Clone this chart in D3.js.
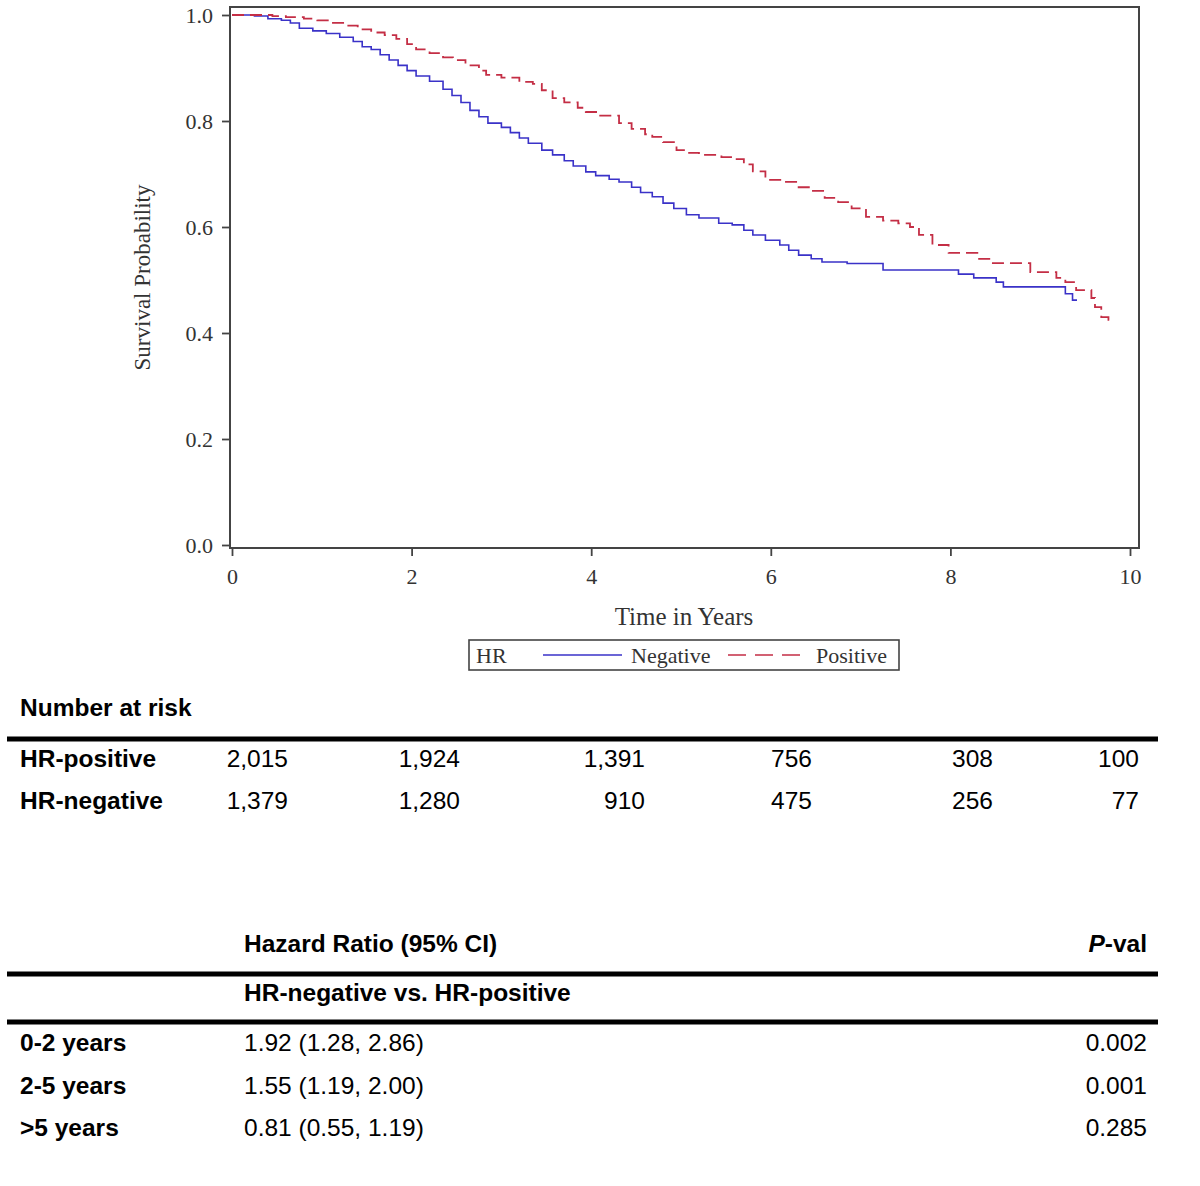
<!DOCTYPE html>
<html>
<head>
<meta charset="utf-8">
<script src="https://cdn.jsdelivr.net/npm/d3@7"></script>
<style>
  html, body { margin: 0; padding: 0; background: #fff; }
  svg { display: block; }
</style>
</head>
<body>
<svg id="chart" width="1200" height="1186"></svg>
<script>
// ── Data ───────────────────────────────────────────────────────────

// Kaplan-Meier steps: [years, survival probability]
const negativeSteps = [
  [0, 1.0], [0.25, 0.998], [0.4, 0.993], [0.55, 0.99], [0.65, 0.985], [0.75, 0.975],
  [0.9, 0.97], [1.05, 0.965], [1.2, 0.958], [1.35, 0.95], [1.45, 0.94], [1.55, 0.935],
  [1.65, 0.925], [1.75, 0.915], [1.85, 0.905], [1.95, 0.895], [2.05, 0.885], [2.2, 0.875],
  [2.35, 0.86], [2.45, 0.848], [2.55, 0.835], [2.65, 0.82], [2.75, 0.808], [2.85, 0.796],
  [3.0, 0.788], [3.1, 0.778], [3.2, 0.768], [3.3, 0.758], [3.45, 0.745], [3.57, 0.736],
  [3.7, 0.725], [3.8, 0.715], [3.94, 0.704], [4.05, 0.697], [4.2, 0.69], [4.31, 0.685],
  [4.45, 0.675], [4.55, 0.665], [4.68, 0.657], [4.8, 0.645], [4.92, 0.635], [5.06, 0.623],
  [5.2, 0.617], [5.42, 0.607], [5.57, 0.604], [5.7, 0.594], [5.8, 0.585], [5.94, 0.575],
  [6.1, 0.566], [6.2, 0.556], [6.31, 0.547], [6.45, 0.54], [6.57, 0.534], [6.85, 0.531],
  [7.25, 0.519], [8.09, 0.511], [8.26, 0.504], [8.51, 0.496], [8.59, 0.487], [9.28, 0.474],
  [9.36, 0.462], [9.41, 0.462]
];

const positiveSteps = [
  [0, 1.0], [0.45, 0.998], [0.6, 0.996], [0.8, 0.993], [0.95, 0.99], [1.1, 0.985],
  [1.25, 0.98], [1.4, 0.973], [1.55, 0.967], [1.7, 0.962], [1.83, 0.955], [1.95, 0.945],
  [2.05, 0.935], [2.2, 0.928], [2.35, 0.92], [2.46, 0.915], [2.6, 0.905], [2.75, 0.895],
  [2.83, 0.887], [3.0, 0.882], [3.2, 0.874], [3.35, 0.87], [3.45, 0.858], [3.57, 0.843],
  [3.7, 0.835], [3.85, 0.825], [3.94, 0.817], [4.1, 0.81], [4.31, 0.796], [4.45, 0.785],
  [4.6, 0.775], [4.68, 0.77], [4.8, 0.76], [4.95, 0.745], [5.06, 0.74], [5.2, 0.736],
  [5.45, 0.732], [5.62, 0.728], [5.7, 0.718], [5.8, 0.705], [5.94, 0.689], [6.15, 0.685],
  [6.31, 0.675], [6.45, 0.668], [6.6, 0.655], [6.75, 0.647], [6.9, 0.635], [7.06, 0.619],
  [7.25, 0.612], [7.42, 0.607], [7.55, 0.6], [7.65, 0.585], [7.8, 0.566], [7.98, 0.551],
  [8.3, 0.54], [8.45, 0.532], [8.89, 0.515], [9.18, 0.504], [9.28, 0.496], [9.4, 0.481],
  [9.57, 0.466], [9.61, 0.449], [9.68, 0.43], [9.76, 0.425], [9.8, 0.421]
];

const xTicks = [0, 2, 4, 6, 8, 10];
const yTicks = [0, 0.2, 0.4, 0.6, 0.8, 1.0];

const legendLabels = ['Negative', 'Positive'];

const riskGroups = ['HR-positive', 'HR-negative'];
const riskCounts = [
  ['2,015', '1,924', '1,391', '756', '308', '100'],
  ['1,379', '1,280', '910', '475', '256', '77']
];

const hrPeriods = ['0-2 years', '2-5 years', '>5 years'];
const hrValues = ['1.92 (1.28, 2.86)', '1.55 (1.19, 2.00)', '0.81 (0.55, 1.19)'];
const hrPvals = ['0.002', '0.001', '0.285'];

// ── Layout ─────────────────────────────────────────────────────────

const COLORS = { neg: '#3a32c8', pos: '#c42e45', axis: '#444', text: '#333' };
const SERIF = '"Liberation Serif", "Times New Roman", serif';
const SANS  = '"Liberation Sans", Arial, sans-serif';
const frame = { left: 230, right: 1139, top: 7, bottom: 548 };
const riskColRight = [288, 460, 645, 812, 993, 1139];

const svg = d3.select('#chart');

const x = d3.scaleLinear().domain([0, 10]).range([232, 1130]);
const y = d3.scaleLinear().domain([0, 1]).range([545, 15]);

// ── Axes ───────────────────────────────────────────────────────────

const yAxis = svg.append('g')
  .attr('transform', `translate(${frame.left},0)`)
  .call(d3.axisLeft(y).tickValues(yTicks).tickFormat(d3.format('.1f')).tickSize(8).tickPadding(9));

const xAxis = svg.append('g')
  .attr('transform', `translate(0,${frame.bottom})`)
  .call(d3.axisBottom(x).tickValues(xTicks).tickSize(8).tickPadding(12));

[yAxis, xAxis].forEach(g => {
  g.select('.domain').remove();
  g.selectAll('.tick line').attr('stroke', COLORS.axis).attr('stroke-width', 1.8);
  g.selectAll('.tick text')
    .attr('fill', COLORS.text)
    .style('font-family', SERIF)
    .style('font-size', '22px');
});

svg.append('rect')
  .attr('x', frame.left).attr('y', frame.top)
  .attr('width', frame.right - frame.left)
  .attr('height', frame.bottom - frame.top)
  .attr('fill', 'none')
  .attr('stroke', COLORS.axis)
  .attr('stroke-width', 2);

svg.append('text')
  .attr('transform', `translate(150,${(frame.top + frame.bottom) / 2}) rotate(-90)`)
  .attr('text-anchor', 'middle')
  .attr('fill', COLORS.text)
  .style('font-family', SERIF).style('font-size', '23px')
  .text('Survival Probability');

svg.append('text')
  .attr('x', 684).attr('y', 625)
  .attr('text-anchor', 'middle')
  .attr('fill', COLORS.text)
  .style('font-family', SERIF).style('font-size', '25px')
  .text('Time in Years');

// ── Curves ─────────────────────────────────────────────────────────

const line = d3.line()
  .x(d => x(d[0]))
  .y(d => y(d[1]))
  .curve(d3.curveStepAfter);

svg.append('path')
  .datum(negativeSteps)
  .attr('d', line)
  .attr('fill', 'none')
  .attr('stroke', COLORS.neg)
  .attr('stroke-width', 1.6);

svg.append('path')
  .datum(positiveSteps)
  .attr('d', line)
  .attr('fill', 'none')
  .attr('stroke', COLORS.pos)
  .attr('stroke-width', 1.8)
  .attr('stroke-dasharray', '12,6');

// ── Legend ─────────────────────────────────────────────────────────

const legend = svg.append('g');
legend.append('rect')
  .attr('x', 469).attr('y', 640).attr('width', 430).attr('height', 30)
  .attr('fill', 'none').attr('stroke', COLORS.axis).attr('stroke-width', 1.6);

const legendText = (lx, str) => legend.append('text')
  .attr('x', lx).attr('y', 663)
  .attr('fill', COLORS.text)
  .style('font-family', SERIF).style('font-size', '22px')
  .text(str);

legendText(476, 'HR');
legend.append('line').attr('x1', 543).attr('x2', 622).attr('y1', 655).attr('y2', 655)
  .attr('stroke', COLORS.neg).attr('stroke-width', 1.5);
legendText(631, legendLabels[0]);
legend.append('line').attr('x1', 728).attr('x2', 802).attr('y1', 655).attr('y2', 655)
  .attr('stroke', COLORS.pos).attr('stroke-width', 1.5).attr('stroke-dasharray', '18,9');
legendText(816, legendLabels[1]);

// ── Tables ─────────────────────────────────────────────────────────

function cell(tx, ty, str, opts = {}) {
  return svg.append('text')
    .attr('x', tx).attr('y', ty)
    .attr('text-anchor', opts.anchor || 'start')
    .attr('fill', '#000')
    .style('font-family', SANS)
    .style('font-size', '24.5px')
    .style('font-weight', opts.bold ? 'bold' : 'normal')
    .text(str);
}

function rule(ry) {
  svg.append('rect')
    .attr('x', 7).attr('y', ry - 2.5).attr('width', 1151).attr('height', 5)
    .attr('fill', '#000');
}

cell(20, 716, 'Number at risk', { bold: true });
rule(739);
riskGroups.forEach((grp, i) => {
  const ry = 767 + i * 42;
  cell(20, ry, grp, { bold: true });
  riskCounts[i].forEach((v, j) => cell(riskColRight[j], ry, v, { anchor: 'end' }));
});

cell(244, 952, 'Hazard Ratio (95% CI)', { bold: true });
const pHead = cell(1147, 952, '', { anchor: 'end', bold: true });
pHead.append('tspan').style('font-style', 'italic').text('P');
pHead.append('tspan').text('-val');
rule(974);
cell(244, 1001, 'HR-negative vs. HR-positive', { bold: true });
rule(1022);
hrPeriods.forEach((p, i) => {
  const ry = 1051 + i * 42.5;
  cell(20, ry, p, { bold: true });
  cell(244, ry, hrValues[i]);
  cell(1147, ry, hrPvals[i], { anchor: 'end' });
});
</script>
</body>
</html>
